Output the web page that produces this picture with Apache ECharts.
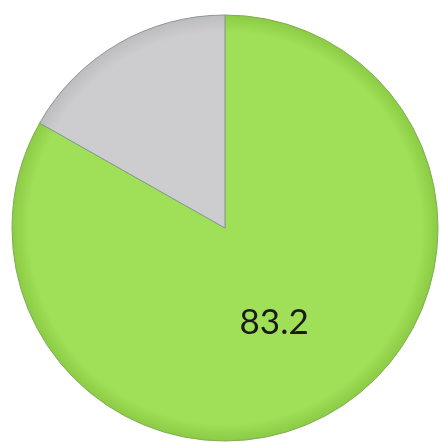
<!DOCTYPE html>
<html>
<head>
<meta charset="utf-8">
<script src="https://cdn.jsdelivr.net/npm/echarts@6/dist/echarts.min.js"></script>
<style>
  html, body { margin: 0; padding: 0; background: #fff; }
  #chart { width: 440px; height: 442px; }
</style>
</head>
<body>
<div id="chart"></div>
<script>
// slice names and values
const names = ['A', 'B']
const values = [83.2, 16.8]
const showLabel = [true, false]

const fills = [
  { inner: '#9fe058', outer: '#8ccb45', border: '#7fae52' },
  { inner: '#cdcdcf', outer: '#bdbdc0', border: '#8c959a' }
]

const cx = 225
const cy = 228
const rad = 213

const chart = echarts.init(document.getElementById('chart'))

const data = names.map((n, i) => ({
  name: n,
  value: values[i],
  label: { show: showLabel[i] },
  itemStyle: {
    // global gradient so both slices share the same rim shading
    color: {
      type: 'radial',
      x: cx,
      y: cy,
      r: rad,
      global: true,
      colorStops: [
        { offset: 0, color: fills[i].inner },
        { offset: 0.92, color: fills[i].inner },
        { offset: 1, color: fills[i].outer }
      ]
    },
    borderColor: fills[i].border,
    borderWidth: 1
  }
}))

chart.setOption({
  animation: false,
  series: [{
    type: 'pie',
    center: [cx, cy],
    radius: [0, rad],
    startAngle: 90,
    clockwise: true,
    label: {
      position: 'inside',
      formatter: '{c}',
      color: '#1a1a1a',
      fontSize: 35,
      fontFamily: 'Lato',
      offset: [-6, 0]
    },
    labelLine: { show: false },
    emphasis: { disabled: true },
    data: data
  }]
})
</script>
</body>
</html>
